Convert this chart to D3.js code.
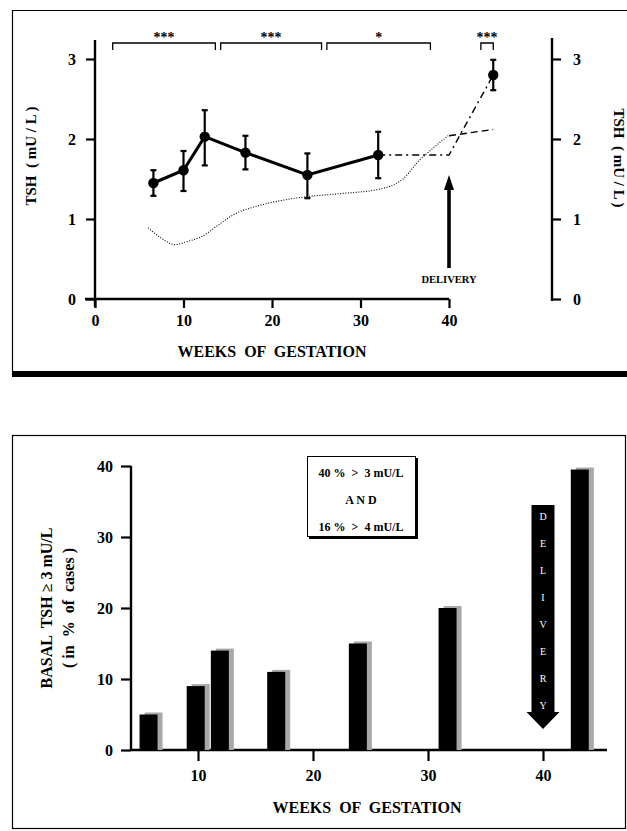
<!DOCTYPE html>
<html><head><meta charset="utf-8">
<script src="https://cdn.jsdelivr.net/npm/d3@7"></script>
<style>
html,body{margin:0;padding:0;background:#fff;}
svg text{font-family:"Liberation Serif","Times New Roman",serif;font-weight:bold;fill:#000;white-space:pre;}
</style></head>
<body>
<svg id="c" width="627" height="831"></svg>
<script>
// ---------- DATA ----------
// Top panel: mean TSH (mU/L) with error bars, by week of gestation
const weeks = [6.6, 10, 12.4, 17, 24, 32];
const tshMean = [1.45, 1.61, 2.03, 1.83, 1.55, 1.80];
const tshHigh = [1.61, 1.85, 2.36, 2.04, 1.82, 2.09];
const tshLow  = [1.29, 1.35, 1.67, 1.62, 1.26, 1.51];
const postWeek = [45];
const postMean = [2.80];
const postHigh = [2.99];
const postLow  = [2.61];
// dash-dot continuation 32 -> delivery -> postpartum
const contWeeks = [32, 40, 45];
const contTsh   = [1.80, 1.80, 2.80];
// short dashed line after delivery
const dashWeeks = [40, 45];
const dashTsh   = [2.04, 2.12];
// dotted reference curve
const refWeeks = [6, 7.5, 9, 10.5, 12.2, 14, 15.6, 18.6, 21, 24, 28, 32, 34.8, 36.7, 37.5, 39.9];
const refTsh   = [0.89, 0.76, 0.68, 0.72, 0.79, 0.93, 1.05, 1.17, 1.23, 1.28, 1.32, 1.37, 1.50, 1.74, 1.82, 2.04];
// significance brackets
const brStart = [2.0, 14.2, 26.2, 43.6];
const brEnd   = [13.6, 25.6, 37.9, 45];
const brStars = ["***", "***", "*", "***"];
const topYTicks = [0, 1, 2, 3];
const topXTicks = [0, 10, 20, 30, 40];

// Bottom panel: % of cases with basal TSH >= 3 mU/L
const barWeeks = [5.7, 9.8, 11.9, 16.8, 23.9, 31.7, 43.2];
const barPct   = [5, 9, 14, 11, 15, 20, 39.5];
const botYTicks = [0, 10, 20, 30, 40];
const botXTicks = [10, 20, 30, 40];
const legendLines = ["40 %  >  3 mU/L", "A N D", "16 %  >  4 mU/L"];
const deliveryLetters = ["D","E","L","I","V","E","R","Y"];

// ---------- DRAW ----------
const svg = d3.select("#c");

// ===== Top panel frame =====
svg.append("line").attr("x1",12).attr("x2",627).attr("y1",10.5).attr("y2",10.5).attr("stroke","#000").attr("stroke-width",1.2);
svg.append("line").attr("x1",12.5).attr("x2",12.5).attr("y1",10).attr("y2",375).attr("stroke","#000").attr("stroke-width",1.2);
svg.append("rect").attr("x",12).attr("y",371).attr("width",615).attr("height",6).attr("fill","#000");

const xT = d3.scaleLinear().domain([0,40]).range([95,449]);
const yT = d3.scaleLinear().domain([0,3]).range([299,59]);

// left axis
svg.append("line").attr("x1",xT(0)).attr("x2",xT(0)).attr("y1",40).attr("y2",yT(0)+8).attr("stroke","#000").attr("stroke-width",2.4);
const gL = svg.append("g").attr("transform",`translate(${xT(0)},0)`)
  .call(d3.axisLeft(yT).tickValues(topYTicks).tickFormat(d3.format("d")).tickSize(9).tickPadding(10));
gL.select(".domain").remove();
gL.selectAll(".tick line").attr("stroke-width",2.2);
gL.selectAll(".tick text").style("font-size","16px");

// bottom axis
svg.append("line").attr("x1",xT(0)-10).attr("x2",xT(40)).attr("y1",yT(0)).attr("y2",yT(0)).attr("stroke","#000").attr("stroke-width",2.4);
const gB = svg.append("g").attr("transform",`translate(0,${yT(0)})`)
  .call(d3.axisBottom(xT).tickValues(topXTicks).tickFormat(d3.format("d")).tickSize(9).tickPadding(7));
gB.select(".domain").remove();
gB.selectAll(".tick line").attr("stroke-width",2.2);
gB.selectAll(".tick text").style("font-size","16px");

// right axis
const xR = 552;
svg.append("line").attr("x1",xR).attr("x2",xR).attr("y1",38).attr("y2",yT(0)+2).attr("stroke","#000").attr("stroke-width",2.4);
const gR = svg.append("g").attr("transform",`translate(${xR},0)`)
  .call(d3.axisRight(yT).tickValues(topYTicks).tickFormat(d3.format("d")).tickSize(9).tickPadding(12));
gR.select(".domain").remove();
gR.selectAll(".tick line").attr("stroke-width",2.2);
gR.selectAll(".tick text").style("font-size","16px");

// titles
svg.append("text").attr("transform","translate(36,156) rotate(-90)").attr("text-anchor","middle").style("font-size","15px").text("TSH  ( mU / L )");
svg.append("text").attr("transform","translate(614,158) rotate(90)").attr("text-anchor","middle").style("font-size","15px").text("TSH  ( mU / L )");
svg.append("text").attr("x",xT(20)).attr("y",357).attr("text-anchor","middle").style("font-size","16px").text("WEEKS  OF  GESTATION");

// dotted reference curve
const refData = refWeeks.map((w,i)=>[w,refTsh[i]]);
svg.append("path").datum(refData)
  .attr("d", d3.line().x(d=>xT(d[0])).y(d=>yT(d[1])).curve(d3.curveMonotoneX))
  .attr("fill","none").attr("stroke","#000").attr("stroke-width",1.1).attr("stroke-dasharray","1,1.6");

// dash-dot continuation
const contData = contWeeks.map((w,i)=>[w,contTsh[i]]);
svg.append("path").datum(contData)
  .attr("d", d3.line().x(d=>xT(d[0])).y(d=>yT(d[1])))
  .attr("fill","none").attr("stroke","#000").attr("stroke-width",1.4).attr("stroke-dasharray","7,4,2,4");
// short dashed
const dashData = dashWeeks.map((w,i)=>[w,dashTsh[i]]);
svg.append("path").datum(dashData)
  .attr("d", d3.line().x(d=>xT(d[0])).y(d=>yT(d[1])))
  .attr("fill","none").attr("stroke","#000").attr("stroke-width",1.4).attr("stroke-dasharray","7,4");

// solid mean line
const meanData = weeks.map((w,i)=>({w, m:tshMean[i], hi:tshHigh[i], lo:tshLow[i]}));
svg.append("path").datum(meanData)
  .attr("d", d3.line().x(d=>xT(d.w)).y(d=>yT(d.m)))
  .attr("fill","none").attr("stroke","#000").attr("stroke-width",3);

const allPts = meanData.concat(postWeek.map((w,i)=>({w, m:postMean[i], hi:postHigh[i], lo:postLow[i]})));
const eb = svg.append("g").selectAll("g").data(allPts).join("g");
eb.append("line").attr("x1",d=>xT(d.w)).attr("x2",d=>xT(d.w)).attr("y1",d=>yT(d.hi)).attr("y2",d=>yT(d.lo)).attr("stroke","#000").attr("stroke-width",2.2);
eb.append("line").attr("x1",d=>xT(d.w)-3).attr("x2",d=>xT(d.w)+3).attr("y1",d=>yT(d.hi)).attr("y2",d=>yT(d.hi)).attr("stroke","#000").attr("stroke-width",2.2);
eb.append("line").attr("x1",d=>xT(d.w)-3).attr("x2",d=>xT(d.w)+3).attr("y1",d=>yT(d.lo)).attr("y2",d=>yT(d.lo)).attr("stroke","#000").attr("stroke-width",2.2);
eb.append("circle").attr("cx",d=>xT(d.w)).attr("cy",d=>yT(d.m)).attr("r",5.2).attr("fill","#000");

// brackets
const brY = 43;
brStart.forEach((s,i)=>{
  const x1 = xT(s), x2 = xT(brEnd[i]);
  svg.append("path").attr("d",`M${x1},${brY+7}V${brY}H${x2}V${brY+7}`).attr("fill","none").attr("stroke","#000").attr("stroke-width",1.3);
  svg.append("text").attr("x",(x1+x2)/2).attr("y",brY-1).attr("text-anchor","middle").style("font-size","14px").text(brStars[i]);
});

// delivery arrow (top)
const ax = xT(40);
svg.append("line").attr("x1",ax).attr("x2",ax).attr("y1",268).attr("y2",186).attr("stroke","#000").attr("stroke-width",3.6);
svg.append("path").attr("d",`M${ax},175L${ax-5},190L${ax+5},190Z`).attr("fill","#000");
svg.append("text").attr("x",ax).attr("y",283).attr("text-anchor","middle").style("font-size","10.5px").text("DELIVERY");

// ===== Bottom panel =====
svg.append("rect").attr("x",12.5).attr("y",435.5).attr("width",613).attr("height",393).attr("fill","none").attr("stroke","#000").attr("stroke-width",1.2);

const xB = d3.scaleLinear().domain([10,40]).range([198,543]);
const yB = d3.scaleLinear().domain([0,40]).range([750,466]);

svg.append("line").attr("x1",131).attr("x2",131).attr("y1",yB(40)).attr("y2",yB(0)).attr("stroke","#000").attr("stroke-width",2.4);
const gLB = svg.append("g").attr("transform","translate(131,0)")
  .call(d3.axisLeft(yB).tickValues(botYTicks).tickFormat(d3.format("d")).tickSize(10).tickPadding(8));
gLB.select(".domain").remove();
gLB.selectAll(".tick line").attr("stroke-width",2.2);
gLB.selectAll(".tick text").style("font-size","16px");

svg.append("line").attr("x1",131).attr("x2",607).attr("y1",yB(0)).attr("y2",yB(0)).attr("stroke","#000").attr("stroke-width",2.4);
const gBB = svg.append("g").attr("transform",`translate(0,${yB(0)})`)
  .call(d3.axisBottom(xB).tickValues(botXTicks).tickFormat(d3.format("d")).tickSize(11).tickPadding(9));
gBB.select(".domain").remove();
gBB.selectAll(".tick line").attr("stroke-width",2.2);
gBB.selectAll(".tick text").style("font-size","16px");

// bars with grey shadow
const bw = 18;
const barData = barWeeks.map((w,i)=>({w, p:barPct[i]}));
svg.append("g").selectAll("rect").data(barData).join("rect")
  .attr("x",d=>xB(d.w)-bw/2+5).attr("y",d=>yB(d.p)-2).attr("width",bw).attr("height",d=>yB(0)-yB(d.p)+2)
  .attr("fill","#a8a8a8");
svg.append("g").selectAll("rect").data(barData).join("rect")
  .attr("x",d=>xB(d.w)-bw/2).attr("y",d=>yB(d.p)).attr("width",bw).attr("height",d=>yB(0)-yB(d.p))
  .attr("fill","#000");

// legend box
svg.append("rect").attr("x",309).attr("y",458).attr("width",109).attr("height",81).attr("fill","#000");
svg.append("rect").attr("x",307.5).attr("y",456.5).attr("width",108).attr("height",80).attr("fill","#fff").attr("stroke","#000").attr("stroke-width",1);
legendLines.forEach((t,i)=>{
  svg.append("text").attr("x",361).attr("y",477+i*27).attr("text-anchor","middle").style("font-size","12px").text(t);
});

// delivery arrow (bottom, downward)
const bx = xB(40);
svg.append("path").attr("d",`M${bx-11.5},505H${bx+11.5}V712H${bx+16.5}L${bx},729L${bx-16.5},712H${bx-11.5}Z`).attr("fill","#000");
deliveryLetters.forEach((l,i)=>{
  svg.append("text").attr("x",bx).attr("y",520+i*27).attr("text-anchor","middle").style("font-size","10px").style("font-weight","normal").style("fill","#fff").text(l);
});

// titles
svg.append("text").attr("transform","translate(52,608) rotate(-90)").attr("text-anchor","middle").style("font-size","16px").text("BASAL  TSH \u2265 3 mU/L");
svg.append("text").attr("transform","translate(74,608) rotate(-90)").attr("text-anchor","middle").style("font-size","16px").text("( in  %  of  cases )");
svg.append("text").attr("x",367).attr("y",813).attr("text-anchor","middle").style("font-size","16px").text("WEEKS  OF  GESTATION");
</script>
</body></html>
